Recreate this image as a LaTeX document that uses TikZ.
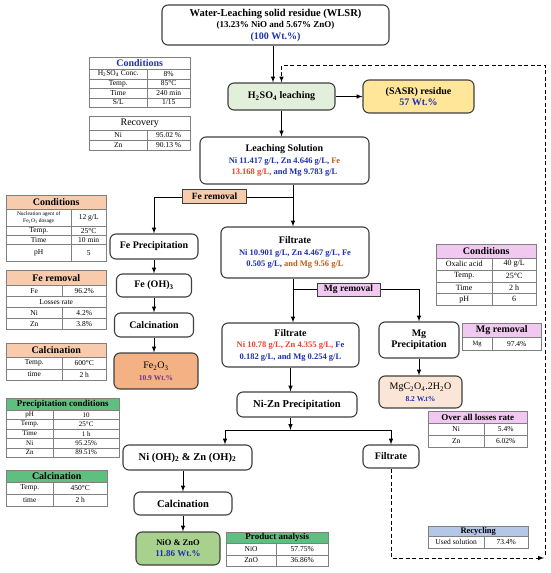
\documentclass[tikz,border=0pt]{standalone}
\usepackage{fontspec}
\setmainfont{Liberation Serif}
\usepackage{xcolor}
\definecolor{boxline}{HTML}{3F3F3F}
\definecolor{leachgreen}{HTML}{E2EFDA}
\definecolor{residueyellow}{HTML}{FFE699}
\definecolor{feorange}{HTML}{F4B183}
\definecolor{peach}{HTML}{F8CBAD}
\definecolor{mgpeach}{HTML}{FBE5D6}
\definecolor{niogreen}{HTML}{A9D18E}
\definecolor{tabgreen}{HTML}{5FBF80}
\definecolor{mgpink}{HTML}{F0C8F0}
\definecolor{recblue}{HTML}{B4C7E7}
\definecolor{txtblue}{HTML}{1F2FB0}
\definecolor{txtorange}{HTML}{C55A11}
\definecolor{txtred}{HTML}{E8402A}
\definecolor{txtpurple}{HTML}{7030A0}
\newcommand{\fsz}[2]{\fontsize{#1}{#2}\selectfont}

\begin{document}
\begin{tikzpicture}[x=1pt,y=-1pt]
\useasboundingbox (0,0) rectangle (550,573);
\tikzstyle{box}=[draw=boxline, line width=1.1pt, rounded corners=6pt, fill=white, align=center, inner sep=1pt, font={\bfseries\fsz{10}{11.5}}]
\tikzstyle{tag}=[draw=boxline, line width=0.8pt, inner sep=1pt, font={\bfseries\fsz{9.5}{10}}]
\tikzstyle{hd}=[draw=gray, line width=0.5pt, anchor=north west, inner sep=0pt, font={\bfseries\fsz{10}{11}}]
\tikzstyle{cl}=[draw=gray, line width=0.4pt, fill=white, anchor=north west, inner sep=0pt, align=center, font={\fsz{7.5}{8}}]
\tikzstyle{flow}=[->,>=latex, line width=1pt]
\tikzstyle{recyc}=[line width=1pt, dash pattern=on 4pt off 2.5pt]
% main flow
	\node[box, minimum width=227pt, minimum height=40pt] (wlsr) at (275.5,25) {\fsz{10.5}{12}Water-Leaching solid residue (WLSR)\\ \fsz{9}{10}(13.23\% NiO and 5.67\% ZnO)\\ \fsz{10}{11}\color{txtblue}(100 Wt.\%)};
	\node[box, fill=leachgreen, minimum width=107pt, minimum height=27pt] (leach) at (281.5,96.5) {H\textsubscript{2}SO\textsubscript{4} leaching};
	\node[box, fill=residueyellow, minimum width=111pt, minimum height=33pt] (sasr) at (418.5,96.5) {(SASR) residue\\ \color{txtblue}57 Wt.\%};
	\node[box, minimum width=169pt, minimum height=47pt] (lsol) at (284.5,160.5) {Leaching Solution\\ \fsz{8.5}{10}\color{txtblue}Ni 11.417 g/L, Zn 4.646 g/L, \textcolor{txtorange}{Fe}\\ \fsz{8.5}{10}\textcolor{txtred}{13.168 g/L,} \color{txtblue}and Mg 9.783 g/L};
	\node[box, minimum width=148pt, minimum height=51pt] (filt1) at (295,252.5) {Filtrate\\ \fsz{8.5}{10}\color{txtblue}Ni 10.901 g/L, Zn 4.467 g/L, Fe\\ \fsz{8.5}{10}\color{txtblue}0.505 g/L, \textcolor{txtorange}{and Mg 9.56 g/L}};
	\node[box, minimum width=137pt, minimum height=44pt] (filt2) at (290.5,345) {Filtrate\\ \fsz{8.5}{10}\color{txtred}Ni 10.78 g/L, Zn 4.355 g/L, \textcolor{txtblue}{Fe}\\ \fsz{8.5}{10}\color{txtblue}0.182 g/L, and Mg 0.254 g/L};
	\node[box, font={\bfseries\fsz{10.5}{12}}, minimum width=120pt, minimum height=25pt] (nizn) at (297,404.5) {Ni-Zn Precipitation};
\par
	\node[box, minimum width=88pt, minimum height=25pt] (feppt) at (154,246.5) {Fe Precipitation};
	\node[box, minimum width=75pt, minimum height=23pt] (feoh) at (154,285.5) {Fe (OH)\textsubscript{3}};
	\node[box, minimum width=79pt, minimum height=24pt] (fecal) at (154,325) {Calcination};
	\node[box, fill=feorange, minimum width=84pt, minimum height=36pt] (fe2o3) at (156,371) {\mdseries Fe\textsubscript{2}O\textsubscript{3}\\ \bfseries\fsz{7.5}{9}\color{txtpurple}10.9 Wt.\%};
\par
	\node[box, minimum width=80pt, minimum height=36pt] (mgppt) at (419,340) {Mg\\Precipitation};
	\node[box, fill=mgpeach, minimum width=83pt, minimum height=32pt] (mgox) at (420.5,392) {\mdseries MgC\textsubscript{2}O\textsubscript{4}.2H\textsubscript{2}O\\ \bfseries\fsz{7.5}{9}\color{txtblue}8.2 W.t\%};
\par
	\node[box, font={\bfseries\fsz{10.5}{12}}, minimum width=129pt, minimum height=25pt] (nioh) at (187.5,457.5) {Ni (OH)\textsubscript{2} \& Zn (OH)\textsubscript{2}};
	\node[box, minimum width=56pt, minimum height=23pt] (filt3) at (391,456.5) {Filtrate};
	\node[box, font={\bfseries\fsz{10.5}{12}}, minimum width=98pt, minimum height=23pt] (nical) at (183,503.5) {Calcination};
	\node[box, fill=niogreen, font={\bfseries\fsz{8.5}{11}}, minimum width=84pt, minimum height=33pt] (nio) at (178,548.5) {NiO \& ZnO\\ \bfseries\fsz{9}{11}\color{txtblue}11.86 Wt.\%};
\par
\coordinate (fej) at (293,197);
	\coordinate (mgj) at (293,289);
	\coordinate (nzj) at (290.5,430);
	\coordinate (nzl) at (225,430);
	\coordinate (rcb) at (544,558);
	\coordinate (rcv) at (545,555);
	\coordinate (rct) at (545,65);
\par
	\draw[flow] ([xshift=-2.5pt]wlsr.south) -- ([xshift=-2.5pt]wlsr.south |- leach.north);
	\draw[flow] (leach.east) -- (sasr.west);
	\draw[flow] (leach.south) -- (leach.south |- lsol.north);
	\draw[flow] (lsol.south -| fej) -- (filt1.north -| fej);
	\draw[flow] (fej) -| (feppt.north);
	\draw[flow] (feppt.south) -- (feoh.north);
	\draw[flow] (feoh.south) -- (fecal.north);
	\draw[flow] (fecal.south) -- (fecal.south |- fe2o3.north);
	\draw[flow] (filt1.south -| fej) -- (filt2.north -| fej);
	\draw[flow] (mgj) -| (mgppt.north);
	\draw[flow] (mgppt.south) -- (mgppt.south |- mgox.north);
	\draw[flow] (filt2.south) -- (filt2.south |- nizn.north);
	\draw[flow] (nizn.south -| nzj) -- (nzj);
	\draw[flow] (nzj) -- (nzl) -- (nzl |- nioh.north);
	\draw[flow] (nzj) -| (filt3.north);
	\draw[flow] (nioh.south -| nical) -- (nical.north);
	\draw[flow] (nical.south) -- (nical.south |- nio.north);
\par
	\draw[recyc,->,>=latex] (filt3.south) |- (rcb);
	\draw[recyc,->,>=latex] (rcv) -- (rct) -| (leach.north);
\par
	\node[tag, fill=peach, minimum width=64pt, minimum height=14pt] (ferem) at (214.5,196) {Fe removal};
	\node[tag, fill=mgpink, minimum width=63pt, minimum height=13pt] (mgrem) at (348.5,289.5) {Mg removal};
% leaching tables
	\node[hd, fill=white, text=txtblue, minimum width=101pt, minimum height=12pt] (condh) at (89,57) {Conditions};
	\foreach \a/\b [count=\i] in {H\textsubscript{2}SO\textsubscript{4} Conc./8\%, Temp./85°C, Time/240 min, {S/L}/{1/15}}{
		\node[cl, minimum width=58pt, minimum height=9.5pt] (conda\i) at (89,{69+9.5*(\i-1)}) {\a};
		\node[cl, minimum width=43pt, minimum height=9.5pt] (condb\i) at (147,{69+9.5*(\i-1)}) {\b};
	}
	\node[hd, fill=white, font={\fsz{10}{11}}, minimum width=101pt, minimum height=14pt] (recoh) at (89,116) {Recovery};
	\foreach \a/\b [count=\i] in {Ni/95.02 \%, Zn/90.13 \%}{
		\node[cl, minimum width=58pt, minimum height=10pt] (recoa\i) at (89,{130+10*(\i-1)}) {\a};
		\node[cl, minimum width=43pt, minimum height=10pt] (recob\i) at (147,{130+10*(\i-1)}) {\b};
	}
% iron tables
	\node[hd, fill=peach, minimum width=100pt, minimum height=14pt] (fecondh) at (6,195) {Conditions};
	\node[cl, font={\fsz{5.5}{6.5}}, minimum width=65pt, minimum height=17pt] (fenuc) at (6,209) {Nucleation agent of\\Fe\textsubscript{2}O\textsubscript{3} dosage};
	\node[cl, minimum width=35pt, minimum height=17pt] (fedose) at (71,209) {12 g/L};
	\foreach \a/\b [count=\i] in {Temp./25°C, Time/10 min}{
		\node[cl, minimum width=65pt, minimum height=9pt] (fecona\i) at (6,{226+9*(\i-1)}) {\a};
		\node[cl, minimum width=35pt, minimum height=9pt] (feconb\i) at (71,{226+9*(\i-1)}) {\b};
	}
	\node[cl, minimum width=65pt, minimum height=17pt] (feph) at (6,244) {pH};
	\node[cl, minimum width=35pt, minimum height=17pt] (fephv) at (71,244) {5};
\par
	\node[hd, fill=peach, minimum width=100pt, minimum height=15pt] (feremh) at (6,270) {Fe removal};
	\node[cl, minimum width=56pt, minimum height=11pt] (feremfe) at (6,285) {Fe};
	\node[cl, minimum width=44pt, minimum height=11pt] (feremfev) at (62,285) {96.2\%};
	\node[cl, minimum width=100pt, minimum height=11pt] (feloss) at (6,296) {Losses rate};
	\foreach \a/\b [count=\i] in {Ni/4.2\%, Zn/3.8\%}{
		\node[cl, minimum width=56pt, minimum height=11pt] (fela\i) at (6,{307+11*(\i-1)}) {\a};
		\node[cl, minimum width=44pt, minimum height=11pt] (felb\i) at (62,{307+11*(\i-1)}) {\b};
	}
\par
	\node[hd, fill=peach, minimum width=100pt, minimum height=14pt] (fecalh) at (6,343) {Calcination};
	\foreach \a/\b [count=\i] in {Temp./600°C, time/2 h}{
		\node[cl, minimum width=56pt, minimum height=11.5pt] (fecala\i) at (6,{357+11.5*(\i-1)}) {\a};
		\node[cl, minimum width=44pt, minimum height=11.5pt] (fecalb\i) at (62,{357+11.5*(\i-1)}) {\b};
	}
% nickel-zinc tables
	\node[hd, fill=tabgreen, font={\bfseries\fsz{9}{10}}, minimum width=113pt, minimum height=12pt] (prech) at (6,398) {Precipitation conditions};
	\foreach \a/\b [count=\i] in {pH/10, Temp./25°C, Time/1 h, Ni/95.25\%, Zn/89.51\%}{
		\node[cl, font={\fsz{7}{8}}, minimum width=47pt, minimum height=9.4pt] (preca\i) at (6,{410+9.4*(\i-1)}) {\a};
		\node[cl, font={\fsz{7}{8}}, minimum width=66pt, minimum height=9.4pt] (precb\i) at (53,{410+9.4*(\i-1)}) {\b};
	}
	\node[hd, fill=tabgreen, minimum width=101pt, minimum height=12pt] (nicalh) at (6,470) {Calcination};
	\foreach \a/\b [count=\i] in {Temp./450°C, time/2 h}{
		\node[cl, minimum width=47pt, minimum height=12pt] (nicala\i) at (6,{482+12*(\i-1)}) {\a};
		\node[cl, minimum width=54pt, minimum height=12pt] (nicalb\i) at (53,{482+12*(\i-1)}) {\b};
	}
	\node[hd, fill=tabgreen, font={\bfseries\fsz{9}{10}}, minimum width=102pt, minimum height=11pt] (prodh) at (226,532) {Product analysis};
	\foreach \a/\b [count=\i] in {NiO/57.75\%, ZnO/36.86\%}{
		\node[cl, minimum width=50pt, minimum height=11.5pt] (proda\i) at (226,{543+11.5*(\i-1)}) {\a};
		\node[cl, minimum width=52pt, minimum height=11.5pt] (prodb\i) at (276,{543+11.5*(\i-1)}) {\b};
	}
% magnesium tables
	\node[hd, fill=mgpink, minimum width=100pt, minimum height=14pt] (mgcondh) at (436,244) {Conditions};
	\foreach \a/\b [count=\i] in {Oxalic acid/{40 g/L}, Temp./25°C, Time/2 h, pH/6}{
		\node[cl, font={\fsz{8}{9}}, minimum width=56pt, minimum height=11.75pt] (mgcona\i) at (436,{258+11.75*(\i-1)}) {\a};
		\node[cl, font={\fsz{8}{9}}, minimum width=44pt, minimum height=11.75pt] (mgconb\i) at (492,{258+11.75*(\i-1)}) {\b};
	}
	\node[hd, fill=mgpink, minimum width=79pt, minimum height=14pt] (mgremh) at (462,323) {Mg removal};
	\node[cl, font={\fsz{6.5}{7}}, minimum width=30pt, minimum height=13pt] (mgremmg) at (462,337) {Mg};
	\node[cl, minimum width=49pt, minimum height=13pt] (mgremv) at (492,337) {97.4\%};
	\node[hd, fill=mgpink, font={\bfseries\fsz{9}{10}}, minimum width=99pt, minimum height=12pt] (lossh) at (428,411) {Over all losses rate};
	\foreach \a/\b [count=\i] in {Ni/5.4\%, Zn/6.02\%}{
		\node[cl, minimum width=56pt, minimum height=12pt] (lossa\i) at (428,{423+12*(\i-1)}) {\a};
		\node[cl, minimum width=43pt, minimum height=12pt] (lossb\i) at (484,{423+12*(\i-1)}) {\b};
	}
	\node[hd, fill=recblue, font={\bfseries\fsz{8.5}{9}}, minimum width=100pt, minimum height=10pt] (recych) at (428,526) {Recycling};
	\node[cl, minimum width=56pt, minimum height=12pt] (recyca) at (428,536) {Used solution};
	\node[cl, minimum width=44pt, minimum height=12pt] (recycb) at (484,536) {73.4\%};
\end{tikzpicture}
\end{document}
